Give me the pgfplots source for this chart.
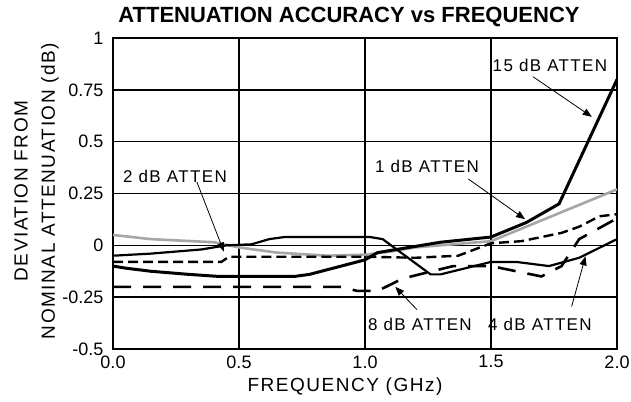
\documentclass[border=0pt]{standalone}
\usepackage{pgfplots}
\pgfplotsset{compat=1.18}
\usepackage{fontspec}
\setmainfont{Liberation Sans}
\newfontfamily\lsp[LetterSpace=8]{Liberation Sans}
\usetikzlibrary{arrows.meta}
\begin{document}
\begin{tikzpicture}
\begin{axis}[
  at={(0,0)}, anchor=south west,
  scale only axis, width=504bp, height=311bp,
  xmin=0, xmax=2, ymin=-0.5, ymax=1,
  xtick={0,0.5,1,1.5,2}, xticklabels={0.0,0.5,1.0,1.5,2.0},
  ytick={-0.5,-0.25,0,0.25,0.5,0.75,1},
  yticklabels={-0.5,-0.25,0,0.25,0.5,0.75,1},
  grid=major, major grid style={black, line width=1.4bp},
  axis line style={line width=1.8bp},
  major tick length=0pt,
  tick label style={font=\fontsize{18bp}{20bp}\selectfont},
  xticklabel style={yshift=-3bp},
  yticklabel style={xshift=-6bp},
  clip=true,
]
\addplot[gray!70, line width=2.6bp] coordinates {(0,0.05)(0.15,0.03)(0.4,0.015)(0.5,-0.01)(0.65,-0.035)(0.85,-0.05)(1.0,-0.045)(1.1,-0.03)(1.2,-0.01)(1.5,0.02)(2.0,0.27)};
\addplot[black, line width=2.4bp, dash pattern=on 10bp off 5bp] coordinates {(0,-0.08)(0.43,-0.08)(0.46,-0.055)(1.0,-0.055)(1.2,-0.06)(1.37,-0.05)(1.5,0.01)(1.62,0.02)(1.78,0.06)(1.85,0.09)(1.93,0.14)(2.0,0.15)};
\addplot[black, line width=2.2bp] coordinates {(0,-0.05)(0.15,-0.04)(0.35,-0.02)(0.45,0.0)(0.55,0.005)(0.62,0.03)(0.68,0.04)(1.02,0.04)(1.07,0.03)(1.26,-0.14)(1.3,-0.14)(1.5,-0.08)(1.6,-0.08)(1.73,-0.1)(1.85,-0.06)(2.0,0.03)};
\addplot[black, line width=2.6bp, dash pattern=on 18bp off 12bp] coordinates {(0,-0.2)(0.9,-0.2)(0.97,-0.22)(1.05,-0.22)(1.15,-0.16)(1.35,-0.1)(1.5,-0.1)(1.7,-0.15)(1.78,-0.1)(1.85,0.03)(2.0,0.13)};
\addplot[black, line width=3bp] coordinates {(0,-0.1)(0.05,-0.11)(0.15,-0.125)(0.3,-0.14)(0.42,-0.15)(0.72,-0.15)(0.78,-0.14)(1.0,-0.07)(1.05,-0.035)(1.3,0.015)(1.5,0.04)(1.64,0.11)(1.77,0.2)(2.0,0.8)};

\begin{scope}[font=\lsp\fontsize{17bp}{19bp}\selectfont]
\node at (axis cs:0.246,0.334) {2 dB ATTEN};
\node at (axis cs:1.734,0.866) {15 dB ATTEN};
\node at (axis cs:1.246,0.382) {1 dB ATTEN};
\node at (axis cs:1.218,-0.382) {8 dB ATTEN};
\node at (axis cs:1.694,-0.382) {4 dB ATTEN};
\end{scope}
\begin{scope}[line width=0.8bp, -{Triangle[length=9bp,width=7bp]}]
\draw (axis cs:0.333,0.305) -- (axis cs:0.44,-0.03);
\draw (axis cs:1.667,0.813) -- (axis cs:1.90,0.62);
\draw (axis cs:1.41,0.32) -- (axis cs:1.635,0.126);
\draw (axis cs:1.206,-0.31) -- (axis cs:1.12,-0.2);
\draw (axis cs:1.82,-0.295) -- (axis cs:1.875,-0.053);
\end{scope}
\end{axis}
\node[font=\fontsize{22bp}{24bp}\selectfont\bfseries] at (236bp,332bp) {ATTENUATION ACCURACY vs FREQUENCY};
\node[rotate=90, font=\lsp\fontsize{19bp}{21bp}\selectfont] at (-92bp,158bp) {DEVIATION FROM};
\node[rotate=90, font=\lsp\fontsize{19bp}{21bp}\selectfont] at (-63bp,158bp) {NOMINAL ATTENUATION (dB)};
\node[font=\lsp\fontsize{19bp}{21bp}\selectfont] at (232bp,-38bp) {FREQUENCY (GHz)};
\pgfresetboundingbox
\path (-113bp,-53bp) rectangle (518bp,349bp);
\end{tikzpicture}
\end{document}
